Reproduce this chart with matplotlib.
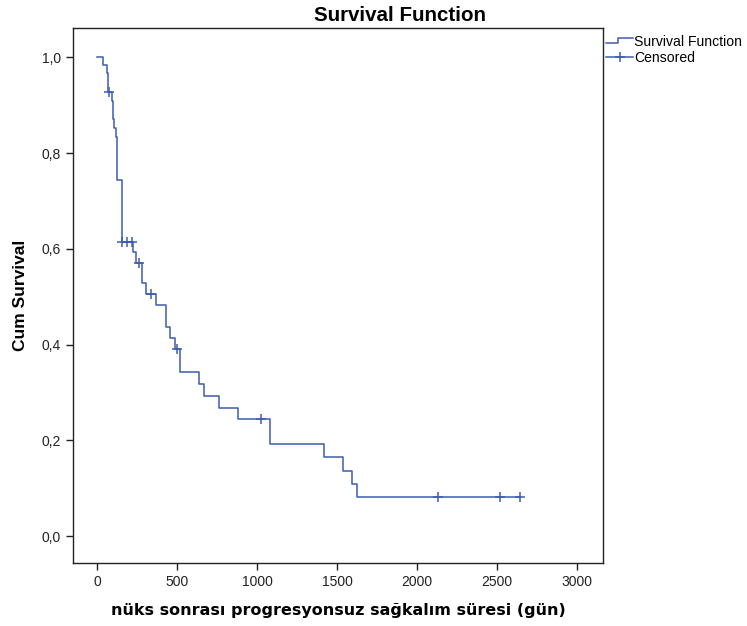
import matplotlib.pyplot as plt
import numpy as np
from matplotlib.lines import Line2D
from matplotlib.legend_handler import HandlerBase
from matplotlib.ticker import FuncFormatter

# Kaplan-Meier steps (days, cumulative survival)
step_times = [0, 40, 60, 70, 92, 98, 108, 117, 123, 128, 158, 227, 244, 279, 306,
              367, 429, 456, 485, 519, 639, 667, 760, 879, 1083, 1417, 1536, 1596, 1623]
step_surv = [1.0, 0.984, 0.967, 0.928, 0.909, 0.871, 0.853, 0.834, 0.815, 0.744,
             0.614, 0.594, 0.571, 0.528, 0.506, 0.482, 0.436, 0.414, 0.391, 0.342,
             0.318, 0.293, 0.268, 0.244, 0.192, 0.165, 0.136, 0.110, 0.082]
cens_times = [77, 158, 189, 220, 264, 338, 500, 1023, 2133, 2521, 2644]

x_ticks = [0, 500, 1000, 1500, 2000, 2500, 3000]
y_ticks = [0.0, 0.2, 0.4, 0.6, 0.8, 1.0]

BLUE = '#3e5cb0'
plt.rcParams['font.family'] = ['Liberation Sans', 'DejaVu Sans']


class StepHandler(HandlerBase):
    # little step icon like the SPSS legend
    def create_artists(self, legend, orig_handle, xdescent, ydescent,
                       width, height, fontsize, trans):
        xs = np.array([0, 0.45, 0.45, 1.0]) * width - xdescent
        ys = np.array([0.3, 0.3, 0.85, 0.85]) * height - ydescent
        ln = Line2D(xs, ys, color=BLUE, lw=1.1)
        ln.set_transform(trans)
        return [ln]


t = step_times + [max(cens_times)]
s = step_surv + [step_surv[-1]]
idx = np.searchsorted(step_times, cens_times, side='right') - 1
cens_surv = [step_surv[i] for i in idx]

fig = plt.figure(figsize=(7.47, 6.26), dpi=100)
ax = fig.add_axes([0.0977, 0.1006, 0.7095, 0.8547])

ax.step(t, s, where='post', color=BLUE, lw=1.1)
ax.plot(cens_times, cens_surv, ls='none', marker='+', ms=7, mew=1.1, color=BLUE)

ax.set_xlim(-150, 3162)
ax.set_ylim(-0.056, 1.061)
ax.set_xticks(x_ticks)
ax.set_yticks(y_ticks)
ax.yaxis.set_major_formatter(FuncFormatter(lambda v, p: f'{v:.1f}'.replace('.', ',')))
ax.tick_params(direction='out', length=5, width=1, labelsize=10, colors='#222222')
for sp in ax.spines.values():
    sp.set_color('#222222')
    sp.set_linewidth(1)

ax.set_xlabel('nüks sonrası progresyonsuz sağkalım süresi (gün)', fontsize=11.5,
              fontweight='bold', family=['DejaVu Sans'], labelpad=10)
ax.set_ylabel('Cum Survival', fontsize=12.5, fontweight='bold', labelpad=10)
fig.text(0.535, 0.976, 'Survival Function', ha='center', va='center',
         fontsize=14.8, fontweight='bold')

h1 = Line2D([], [], color=BLUE)
h2 = Line2D([], [], color=BLUE, marker='+', ms=7, mew=1.1, lw=1.1)
ax.legend([h1, h2], ['Survival Function', 'Censored'],
          handler_map={h1: StepHandler()},
          loc='upper left', bbox_to_anchor=(0.993, 1.0), frameon=False,
          fontsize=10.1, handlelength=1.9, handletextpad=0.1, labelspacing=0.15,
          borderaxespad=0.3, borderpad=0.2)

fig.savefig('out.png', dpi=100)
